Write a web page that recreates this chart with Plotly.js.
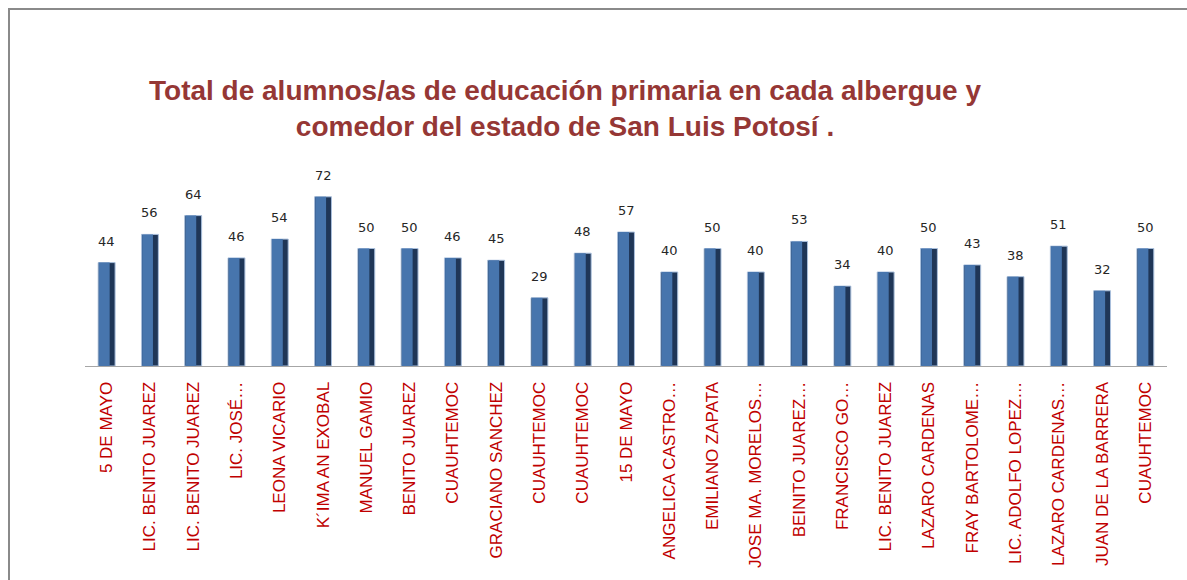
<!DOCTYPE html>
<html>
<head>
<meta charset="utf-8">
<script src="https://cdn.plot.ly/plotly-3.0.1.min.js"></script>
<style>
html,body{margin:0;padding:0;background:#fff;overflow:hidden;}
#chart{width:1187px;height:580px;}
</style>
</head>
<body>
<div id="chart"></div>
<script>
var categories = [
  "5 DE MAYO", "LIC. BENITO JUAREZ", "LIC. BENITO JUAREZ", "LIC. JOSÉ…", "LEONA VICARIO",
  "K´IMA AN EXOBAL", "MANUEL GAMIO", "BENITO JUAREZ", "CUAUHTEMOC", "GRACIANO SANCHEZ",
  "CUAUHTEMOC", "CUAUHTEMOC", "15 DE MAYO", "ANGELICA CASTRO…", "EMILIANO ZAPATA",
  "JOSE MA. MORELOS…", "BEINITO JUAREZ…", "FRANCISCO GO…", "LIC. BENITO JUAREZ", "LAZARO CARDENAS",
  "FRAY BARTOLOME…", "LIC. ADOLFO LOPEZ…", "LAZARO CARDENAS…", "JUAN DE LA BARRERA", "CUAUHTEMOC"
];
var values = [44, 56, 64, 46, 54, 72, 50, 50, 46, 45, 29, 48, 57, 40, 50, 40, 53, 34, 40, 50, 43, 38, 51, 32, 50];
var titleText = "Total de alumnos/as de educación primaria en cada albergue y<br>comedor del estado de San Luis Potosí .";

var idx = categories.map(function(_, i){ return i; });

var W = 1187, H = 580, L = 85, R = 20, T = 178, B = 214;
var pw = W - L - R, ph = H - T - B;
function px2x(p){ return (p - L) / pw; }
function py2y(p){ return (H - B - p) / ph; }

var base = {
  type: 'bar', x: idx, y: values, width: 0.39,
  marker: {color: '#1f3657', line: {color: '#a9bfdc', width: 1}},
  hoverinfo: 'skip', showlegend: false
};
var light = {
  type: 'bar', x: idx, y: values, width: 0.25, offset: -0.18,
  marker: {color: '#4775ad', line: {width: 0}},
  hoverinfo: 'skip', showlegend: false
};

var annotations = idx.map(function(i){
  return {
    x: i, y: values[i], xref: 'x', yref: 'y', text: String(values[i]),
    showarrow: false, yanchor: 'bottom', yshift: 12,
    font: {family: 'DejaVu Sans, Verdana, sans-serif', size: 13, color: '#262626'}
  };
});

var layout = {
  width: W, height: H,
  margin: {l: L, r: R, t: T, b: B, autoexpand: false},
  paper_bgcolor: '#ffffff', plot_bgcolor: '#ffffff',
  barmode: 'overlay',
  title: {
    text: titleText, xref: 'container', yref: 'container',
    x: 565 / W, xanchor: 'center', y: 1 - 100 / H, yanchor: 'middle',
    font: {family: 'Liberation Sans, Arial, sans-serif', size: 28, color: '#953735', weight: 'bold'}
  },
  xaxis: {
    range: [-0.5, categories.length - 0.5],
    tickmode: 'array', tickvals: idx, ticktext: categories,
    tickangle: -90, ticks: 'outside', ticklen: 8, tickcolor: 'rgba(0,0,0,0)',
    tickfont: {family: 'Liberation Sans Narrow, Arial Narrow, sans-serif', size: 17, color: '#c00000'},
    showline: true, linecolor: '#a6a6a6', linewidth: 1,
    showgrid: false, zeroline: false, automargin: false, fixedrange: true
  },
  yaxis: {
    range: [0, 80], showgrid: false, zeroline: false, showticklabels: false,
    showline: false, ticks: '', automargin: false, fixedrange: true
  },
  annotations: annotations,
  shapes: [{
    type: 'rect', xref: 'paper', yref: 'paper',
    x0: px2x(9), x1: px2x(1200), y0: py2y(600), y1: py2y(9),
    line: {color: '#8a8a8a', width: 2}, fillcolor: 'rgba(0,0,0,0)', layer: 'below'
  }]
};

Plotly.newPlot('chart', [base, light], layout, {staticPlot: true, displayModeBar: false});
</script>
</body>
</html>
